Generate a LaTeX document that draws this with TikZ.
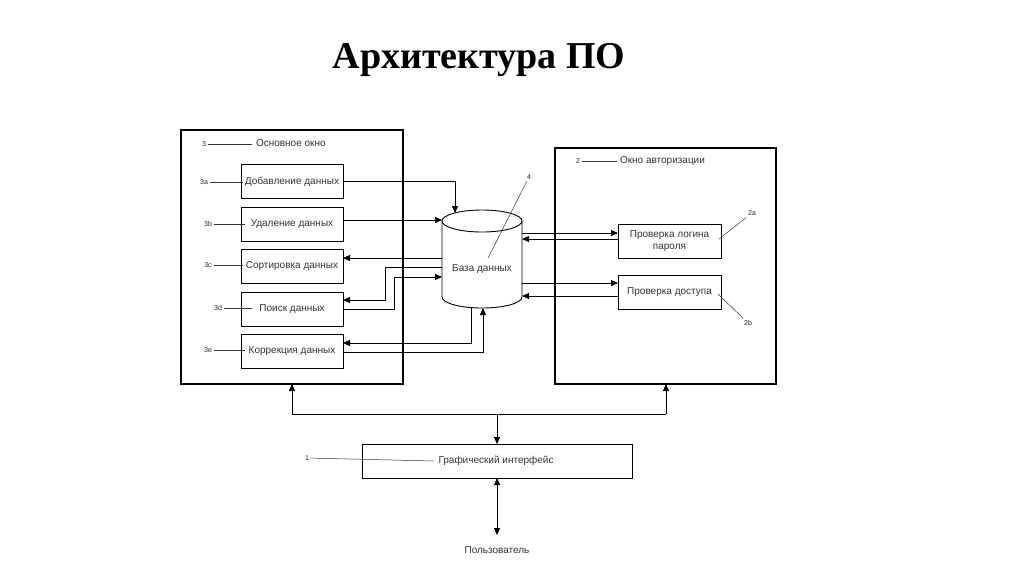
\documentclass[tikz,border=0pt]{standalone}
\usepackage{fontspec}
\setmainfont{Liberation Sans}
\newfontfamily\titlefont{Liberation Serif}
\usetikzlibrary{arrows.meta}
\begin{document}
\begin{tikzpicture}[x=1pt,y=1pt,
  every node/.style={inner sep=0pt, outer sep=0pt},
  frame/.style={draw, line width=1.2pt},
  ibox/.style={draw, line width=0.9pt, minimum width=102pt, minimum height=34pt, font=\fontsize{10}{12}\selectfont, text=black!80, align=center},
  txt/.style={font=\fontsize{10}{12}\selectfont, text=black!80},
  lab/.style={font=\fontsize{7}{8}\selectfont, text=black!85, outer sep=2pt},
  lead/.style={line width=0.5pt, draw=black!80},
  conn/.style={line width=0.9pt},
  tip/.style={-{Triangle[length=7pt,width=6pt]}},
  dtip/.style={{Triangle[length=7pt,width=6pt]}-{Triangle[length=7pt,width=6pt]}},
  ]
\useasboundingbox (0,0) rectangle (1024,-576);
\fill[white] (0,0) rectangle (1024,-576);

% title
\node[font=\titlefont\bfseries\fontsize{38}{42}\selectfont] (title) at (479,-60) {Архитектура ПО};

% frames
\node[frame, minimum width=222pt, minimum height=254pt] (main) at (292,-257) {};
\node[frame, minimum width=221pt, minimum height=236pt] (auth) at (665.5,-266) {};

% left boxes
\node[ibox] (add) at (292,-181.5) {Добавление данных};
\node[ibox] (del) at (292,-224.5) {Удаление данных};
\node[ibox] (sort) at (292,-266) {Сортировка данных};
\node[ibox] (search) at (292,-309) {Поиск данных};
\node[ibox] (corr) at (292,-351) {Коррекция данных};

% right boxes
\node[ibox, minimum width=103pt] (login) at (669.5,-241) {Проверка логина\\пароля};
\node[ibox, minimum width=103pt] (access) at (669.5,-292) {Проверка доступа};

% database cylinder
\node[minimum width=80pt, minimum height=98pt] (db) at (482,-259) {};
\draw[conn, fill=white] (442,-221) -- (442,-297) arc[start angle=180, end angle=360, x radius=40, y radius=11] -- (522,-221);
\draw[conn] (482,-221) ellipse[x radius=40, y radius=11];
\node[txt] (dbtext) at (482,-269) {База данных};

% GUI
\node[ibox, minimum width=270pt, minimum height=34pt] (gui) at (497,-461) {};
\node[txt] (guitext) at (496,-461) {Графический интерфейс};
\node[txt] (user) at (497,-550) {Пользователь};

% coordinates on the cylinder
\coordinate (dbT1) at (455,-213);
\coordinate (dbL0) at (442,-220);
\coordinate (dbL1) at (442,-258);
\coordinate (dbL2) at (442,-267);
\coordinate (dbL3) at (442,-277);
\coordinate (dbB1) at (471,-307.5);
\coordinate (dbB2) at (483,-308);
\coordinate (dbR1) at (522,-233);
\coordinate (dbR2) at (522,-239);
\coordinate (dbR3) at (522,-283);
\coordinate (dbR4) at (522,-296);

% left connectors
\draw[conn,tip] (add.east) -| (dbT1);
\draw[conn,tip] (del.east |- dbL0) -- (dbL0);
\draw[conn,tip] (dbL1) -- (dbL1 -| sort.east);
\draw[conn,tip] (dbL2) -- ++(-57,0) |- ([yshift=9pt]search.east);
\draw[conn,tip] (search.east) -- ++(51,0) |- (dbL3);
\draw[conn,tip] (dbB1) |- ([yshift=8pt]corr.east);
\draw[conn,tip] ([yshift=-1pt]corr.east) -| (dbB2);

% right connectors
\draw[conn,tip] (dbR1) -- (dbR1 -| login.west);
\draw[conn,tip] (dbR2 -| login.west) -- (dbR2);
\draw[conn,tip] (dbR3) -- (dbR3 -| access.west);
\draw[conn,tip] (dbR4 -| access.west) -- (dbR4);

% bus
\coordinate (busL) at (292,-414);
\coordinate (busR) at (666,-414);
\coordinate (busM) at (497,-414);
\coordinate (uTop) at (497,-535);
\draw[conn] (busL) -- (busR);
\draw[conn,tip] (busL) -- (busL |- main.south);
\draw[conn,tip] (busR) -- (busR |- auth.south);
\draw[conn,tip] (busM) -- (gui.north);
\draw[conn,dtip] (gui.south) -- (uTop);

% labels and leaders
\node[lab] (l3) at (204,-144) {3};
\coordinate (e3) at (252,-144);
\draw[lead] (l3) -- (e3);
\node[txt, anchor=west] (mainttl) at (256,-143) {Основное окно};

\node[lab] (l3a) at (204,-182) {3a};
\coordinate (e3a) at (243,-182);
\draw[lead] (l3a) -- (e3a);
\node[lab] (l3b) at (208,-224) {3b};
\coordinate (e3b) at (245,-224);
\draw[lead] (l3b) -- (e3b);
\node[lab] (l3c) at (208,-265) {3c};
\coordinate (e3c) at (243,-265);
\draw[lead] (l3c) -- (e3c);
\node[lab] (l3d) at (218,-308) {3d};
\coordinate (e3d) at (252,-308);
\draw[lead] (l3d) -- (e3d);
\node[lab] (l3e) at (208,-350) {3e};
\coordinate (e3e) at (245,-350);
\draw[lead] (l3e) -- (e3e);

\node[lab] (l2) at (578,-161) {2};
\coordinate (e2) at (617,-161);
\draw[lead] (l2) -- (e2);
\node[txt, anchor=west] (authttl) at (620,-161) {Окно авторизации};

\node[lab] (l4) at (529,-177) {4};
\coordinate (e4) at (488,-258);
\draw[lead] (l4) -- (e4);

\node[lab] (l2a) at (752,-213) {2a};
\coordinate (e2a) at (719,-239);
\draw[lead] (l2a) -- (e2a);
\node[lab] (l2b) at (748,-323) {2b};
\coordinate (e2b) at (718,-294);
\draw[lead] (l2b) -- (e2b);

\node[lab] (l1) at (307,-458) {1};
\coordinate (e1) at (434,-461);
\draw[lead] (l1) -- (e1);
\end{tikzpicture}
\end{document}
